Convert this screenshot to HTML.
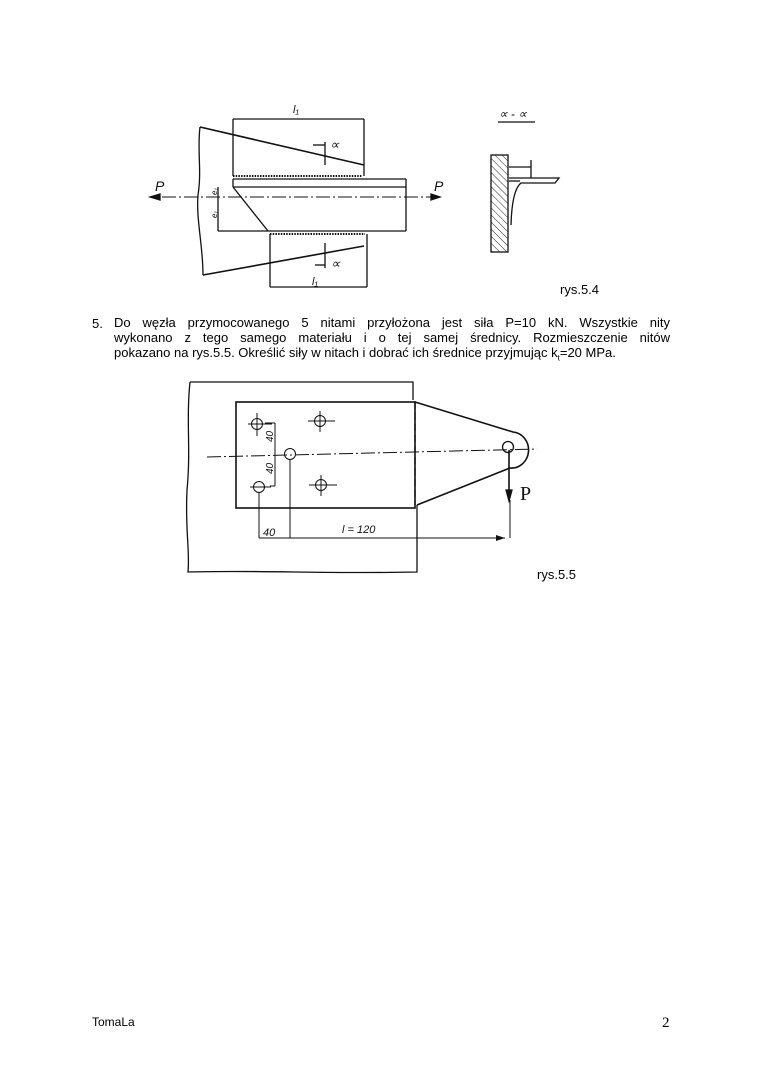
<!DOCTYPE html>
<html><head><meta charset="utf-8"><style>
html,body{margin:0;padding:0;background:#fff}
body{width:760px;height:1075px;position:relative;overflow:hidden;font-family:"Liberation Sans",Arial,sans-serif;color:#000}
.t{position:absolute;font-size:13px;white-space:nowrap}
.line{position:absolute;left:114px;width:556px;font-size:13px;line-height:15px;text-align:justify;text-align-last:justify;white-space:nowrap}
.line.last{text-align-last:left;width:auto}
svg{position:absolute;left:0;top:0}
</style></head><body>
<svg width="760" height="1075" viewBox="0 0 760 1075" fill="none" stroke="#111" stroke-width="1.3">
<defs>
<pattern id="h" width="5" height="5" patternUnits="userSpaceOnUse" patternTransform="rotate(-45)"><line x1="0" y1="0" x2="0" y2="5" stroke="#222" stroke-width="1"/></pattern>
</defs>
<!-- fig 5.4 -->
<path d="M200,127 C197,150 202,170 198,195 C196,220 203,245 203,275"/>
<line x1="200" y1="127" x2="364" y2="165" stroke-width="1.6"/>
<line x1="203" y1="275" x2="364" y2="246" stroke-width="1.6"/>
<line x1="233" y1="119" x2="364" y2="119"/>
<line x1="233" y1="119" x2="233" y2="176"/>
<line x1="364" y1="119" x2="364" y2="176"/>
<line x1="233" y1="176" x2="362" y2="176" stroke-dasharray="1.5 1.2" stroke-width="2"/>
<line x1="233" y1="179" x2="406" y2="179"/>
<line x1="233" y1="187" x2="406" y2="187"/>
<line x1="406" y1="179" x2="406" y2="231"/>
<line x1="218" y1="231" x2="406" y2="231"/>
<line x1="218" y1="187" x2="218" y2="231"/>
<line x1="233" y1="179" x2="233" y2="187"/>
<line x1="233" y1="187" x2="268" y2="231"/>
<line x1="162" y1="197" x2="440" y2="197" stroke-dasharray="14 3 2 3" stroke-width="1"/>
<path d="M150,197 l10,-3 v6 z" fill="#111"/>
<path d="M440,197 l-9,-3 v6 z" fill="#111"/>
<line x1="270" y1="234" x2="365" y2="234" stroke-dasharray="1.5 1.2" stroke-width="2"/>
<line x1="270" y1="234" x2="270" y2="287"/>
<line x1="367" y1="234" x2="367" y2="287"/>
<line x1="270" y1="287" x2="367" y2="287"/>
<line x1="325" y1="142" x2="325" y2="165"/>
<line x1="313" y1="145" x2="325" y2="145"/>
<line x1="325" y1="243" x2="325" y2="268"/>
<line x1="315" y1="265" x2="325" y2="265"/>
<!-- section -->
<line x1="498" y1="122" x2="535" y2="122"/>
<rect x="491" y="155" width="17" height="97" fill="url(#h)"/>
<path d="M509,178 H559 L555,183 H521 Q512,190 511,225" stroke-width="1.3"/>
<line x1="509" y1="181" x2="520" y2="181"/>
<line x1="509" y1="167" x2="531" y2="167"/>
<line x1="531" y1="160" x2="531" y2="178"/>
<!-- fig 5.5 -->
<path d="M190,382 H413 V400"/>
<path d="M190,382 C186,420 191,450 187,490 C185,530 190,550 188,572 C260,570 330,574 417,572 V505"/>
<rect x="236" y="402" width="179" height="106" stroke-width="1.6"/>
<line x1="415" y1="402" x2="415" y2="505" stroke-dasharray="7 4"/>
<path d="M415,402 L513,432 A17,18 0 0 1 510,468 L417,505" stroke-width="1.6"/>
<circle cx="508" cy="447" r="5.5"/>
<line x1="207" y1="457" x2="537" y2="449" stroke-dasharray="14 3 2 3" stroke-width="1"/>
<g stroke-width="1">
<circle cx="257" cy="424" r="5.5"/><line x1="248" y1="424" x2="272" y2="424"/><line x1="257" y1="413" x2="257" y2="436"/>
<circle cx="320" cy="421" r="5.5"/><line x1="308" y1="421" x2="335" y2="421"/><line x1="320" y1="411" x2="320" y2="432"/>
<circle cx="290" cy="454" r="5.5"/>
<circle cx="259" cy="487" r="5.5"/><line x1="250" y1="487" x2="271" y2="487"/>
<circle cx="321" cy="485" r="5.5"/><line x1="309" y1="485" x2="337" y2="485"/><line x1="321" y1="475" x2="321" y2="496"/>
<line x1="275" y1="423" x2="275" y2="486"/><line x1="265" y1="423" x2="275" y2="423"/><line x1="270" y1="486" x2="275" y2="486"/>
<line x1="259" y1="493" x2="259" y2="538"/>
<line x1="290" y1="460" x2="290" y2="538"/>
<line x1="510" y1="500" x2="510" y2="538"/>
<line x1="259" y1="538" x2="505" y2="538"/>
</g>
<path d="M505,538 l-9,-3 v6 z" fill="#111" stroke="none"/>
<line x1="509" y1="450" x2="509" y2="490" stroke-width="1.6"/>
<path d="M509,501 l-3,-11 h6 z" fill="#111"/>
<g fill="#111" stroke="none" font-family="Liberation Sans, sans-serif" font-style="italic">
<text x="293" y="113" font-size="11">l₁</text>
<text x="312" y="285" font-size="11">l₁</text>
<text x="330" y="149" font-size="13">∝</text>
<text x="331" y="268" font-size="13">∝</text>
<text x="155" y="191" font-size="14">P</text>
<text x="434" y="191" font-size="14">P</text>
<text x="499" y="118" font-size="12">∝ - ∝</text>
<text x="263" y="536" font-size="11">40</text>
<text x="342" y="533" font-size="11">l = 120</text>
<text x="520" y="500" font-size="20" font-style="normal" font-family="Liberation Serif, serif">P</text>
<text transform="translate(273,442) rotate(-90)" font-size="10">40</text>
<text transform="translate(273,474) rotate(-90)" font-size="10">40</text>
<text transform="translate(217,195) rotate(-90)" font-size="8">e₁</text>
<text transform="translate(217,218) rotate(-90)" font-size="8">e₁</text>
</g>
</svg>
<div class="t" style="left:560px;top:282px">rys.5.4</div>
<div class="t" style="left:92px;top:316px">5.</div>
<div class="line" style="top:315px">Do węzła przymocowanego 5 nitami przyłożona jest siła P=10 kN. Wszystkie nity</div>
<div class="line" style="top:330px">wykonano z tego samego materiału i o tej samej średnicy. Rozmieszczenie nitów</div>
<div class="line last" style="top:345px">pokazano na rys.5.5. Określić siły w nitach i dobrać ich średnice przyjmując k<sub style="font-size:8px">t</sub>=20 MPa.</div>
<div class="t" style="left:537px;top:567px">rys.5.5</div>
<div class="t" style="left:92px;top:1015px;font-size:12px">TomaLa</div>
<div class="t" style="left:662px;top:1015px;font-family:'Liberation Serif',serif;font-size:15px">2</div>
</body></html>
